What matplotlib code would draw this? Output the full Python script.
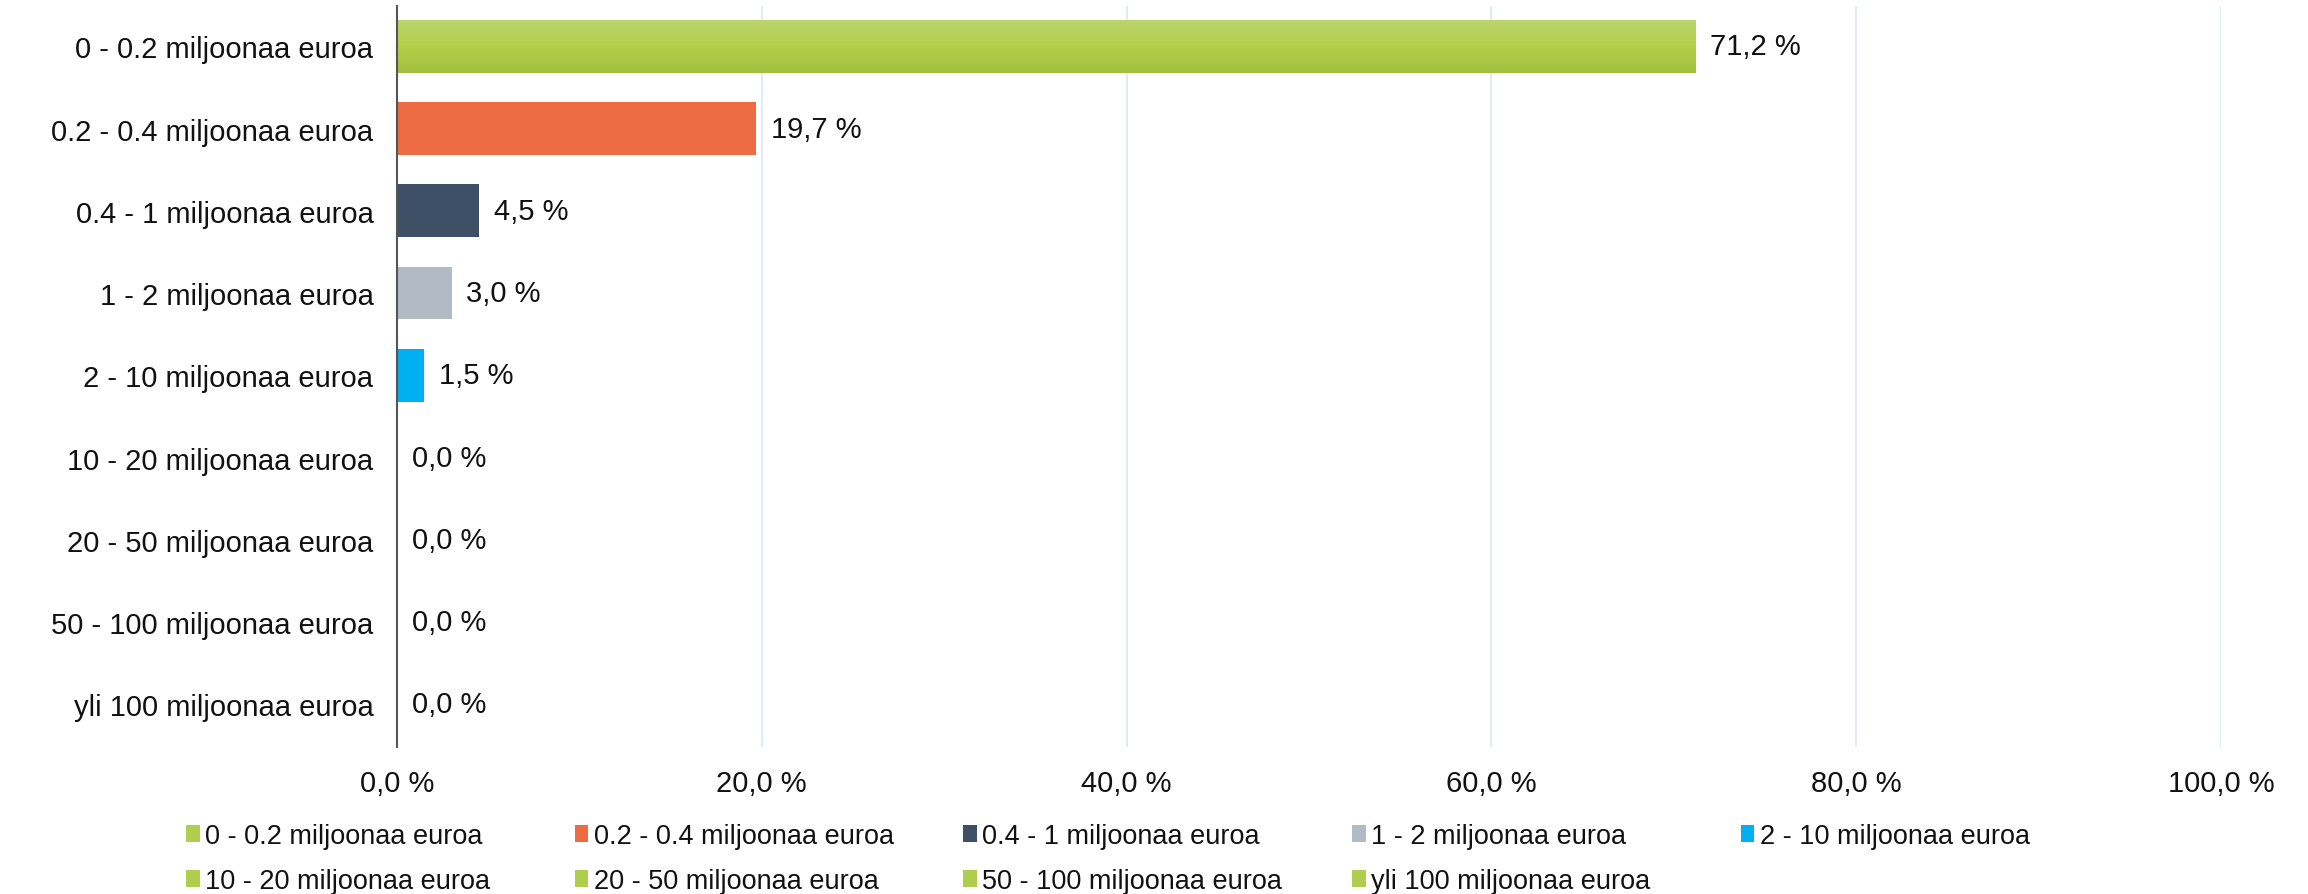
import matplotlib
matplotlib.use("Agg")
import matplotlib.pyplot as plt
from matplotlib.patches import Patch
from matplotlib.colors import LinearSegmentedColormap
import numpy as np

plt.rcParams['font.family'] = ['Liberation Sans', 'DejaVu Sans']

categories = ["0 - 0.2 miljoonaa euroa", "0.2 - 0.4 miljoonaa euroa",
              "0.4 - 1 miljoonaa euroa", "1 - 2 miljoonaa euroa",
              "2 - 10 miljoonaa euroa", "10 - 20 miljoonaa euroa",
              "20 - 50 miljoonaa euroa", "50 - 100 miljoonaa euroa",
              "yli 100 miljoonaa euroa"]
values = [71.2, 19.7, 4.5, 3.0, 1.5, 0.0, 0.0, 0.0, 0.0]
value_labels = ["71,2 %", "19,7 %", "4,5 %", "3,0 %", "1,5 %",
                "0,0 %", "0,0 %", "0,0 %", "0,0 %"]
xticks = [0, 20, 40, 60, 80, 100]
xtick_labels = ["0,0 %", "20,0 %", "40,0 %", "60,0 %", "80,0 %", "100,0 %"]

GREEN = "#b0cd4e"
colors = [GREEN, "#ed6c43", "#3e5065", "#b2bbc4", "#00b0f0",
          GREEN, GREEN, GREEN, GREEN]

W, H = 2308, 895
fig = plt.figure(figsize=(W / 100, H / 100), dpi=100)
ax = fig.add_axes([397 / W, 1 - 748 / H, (2221 - 397) / W, (748 - 7) / H])

y = np.arange(len(categories))
bars = ax.barh(y, values, height=0.64, color=colors, zorder=3)

# vertical gradient on green bars
cmap = LinearSegmentedColormap.from_list("g", ["#bcd56e", "#b3d04c", "#a2bf3e"])
grad = np.linspace(0, 1, 256).reshape(-1, 1)
for b, c in zip(bars, colors):
    if c == GREEN and b.get_width() > 0:
        x0, y0, w, h = b.get_x(), b.get_y(), b.get_width(), b.get_height()
        im = ax.imshow(grad, cmap=cmap, aspect='auto',
                       extent=(x0, x0 + w, y0 + h, y0), zorder=4)
        im.set_clip_path(b)

for yi, v, lab in zip(y, values, value_labels):
    ax.annotate(lab, xy=(v, yi), xytext=(10.5, 0), textcoords='offset points',
                va='center', ha='left', fontsize=21, color='#111111', zorder=5)

ax.set_xlim(0, 100)
ax.set_ylim(len(categories) - 0.48, -0.49)
ax.set_yticks(y)
ax.set_yticklabels(categories, fontsize=21, color='#111111')
ax.set_xticks(xticks)
ax.set_xticklabels(xtick_labels, fontsize=21, color='#111111')
ax.tick_params(axis='both', length=0)
ax.tick_params(axis='x', pad=16)
ax.tick_params(axis='y', pad=17)

ax.grid(axis='x', color='#dde6f1', linewidth=1.2, zorder=0)
ax.set_axisbelow(True)
for s in ['top', 'right', 'bottom']:
    ax.spines[s].set_visible(False)
ax.spines['left'].set_color('#555555')
ax.spines['left'].set_linewidth(1.5)
ax.spines['left'].set_zorder(6)

# legend: one entry per slot, equal column spacing, 5 per row
x_start = 186 / W
dx = 388.7 / W
row_y = [1 - 837 / H, 1 - 882 / H]
for i, (lab, c) in enumerate(zip(categories, colors)):
    row, col = divmod(i, 5)
    leg = fig.legend(handles=[Patch(facecolor=c, edgecolor='none')], labels=[lab],
                     loc='center left', bbox_to_anchor=(x_start + col * dx, row_y[row]),
                     frameon=False, fontsize=19.5, handlelength=0.5, handleheight=0.6,
                     handletextpad=0.2, borderpad=0, borderaxespad=0)
    for t in leg.get_texts():
        t.set_color('#111111')

fig.savefig("out.png", dpi=100, facecolor='white')
